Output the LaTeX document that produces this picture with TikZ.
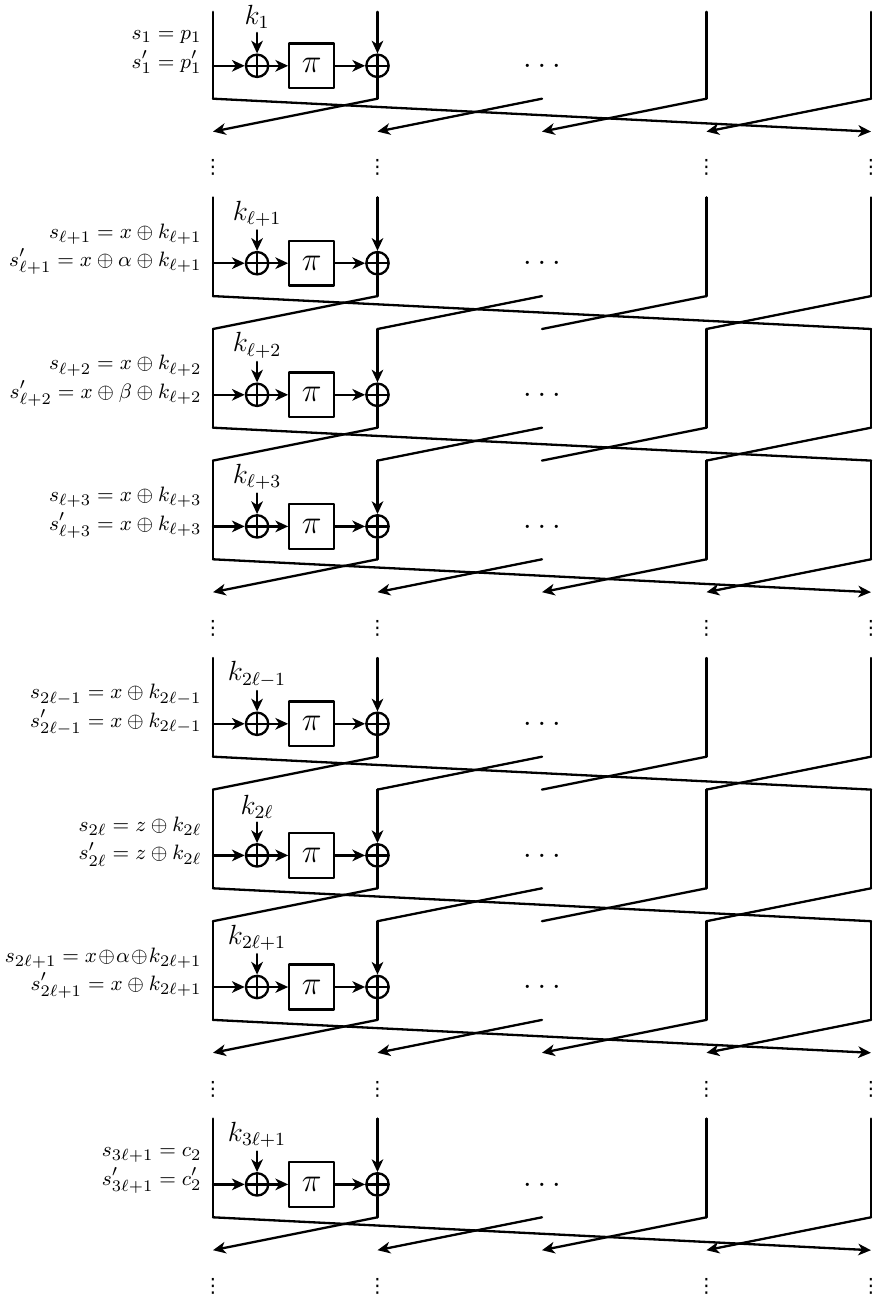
\documentclass[tikz,border=0pt]{standalone}
\usepackage{amsmath,amssymb}
\usepackage{fontspec}
\usepackage{tikz}
\usetikzlibrary{calc,arrows.meta,positioning}

\newfontfamily\dotsfont{DejaVu Sans}

\tikzset{
  wire/.style={line width=1pt},
  flow/.style={line width=1pt,-{Stealth[length=5.5pt,width=5pt,inset=1.6pt]}},
  xorop/.style={circle,draw,line width=1pt,minimum size=3.4mm,inner sep=0pt,
    path picture={\draw[line width=1pt] (path picture bounding box.north) -- (path picture bounding box.south)
      (path picture bounding box.west) -- (path picture bounding box.east);}},
  permbox/.style={draw,line width=1pt,minimum size=6.8mm,inner sep=0pt,font=\Large},
  statelab/.style={anchor=east,align=right,inner sep=0.333em,font=\fontsize{9.4}{12.3}\selectfont},
  keylab/.style={anchor=south,inner sep=1.5pt,font=\large},
  vdotlab/.style={inner sep=0pt,font=\dotsfont\fontsize{8.5}{10}\selectfont},
}

\begin{document}
\begin{tikzpicture}[scale=1.0, line cap=round, line join=round]
\useasboundingbox (-3.237,0) rectangle (10.046,-19.757);
% one round per entry: number / input level / top / key / labels / arrows+dots after
\foreach \rd/\ry/\rt/\kl/\labA/\labB/\ends in {
  1/-1/0.82/{k_1}/{s_1 = p_1}/{s'_1 = p'_1}/1,
  2/-4/1/{k_{\ell+1}}/{s_{\ell+1} = x \oplus k_{\ell+1}}/{s'_{\ell+1} = x \oplus \alpha \oplus k_{\ell+1}}/0,
  3/-6/1/{k_{\ell+2}}/{s_{\ell+2} = x \oplus k_{\ell+2}}/{s'_{\ell+2} = x \oplus \beta \oplus k_{\ell+2}}/0,
  4/-8/1/{k_{\ell+3}}/{s_{\ell+3} = x \oplus k_{\ell+3}}/{s'_{\ell+3} = x \oplus k_{\ell+3}}/1,
  5/-11/1/{k_{2\ell-1}}/{s_{2\ell-1} = x \oplus k_{2\ell-1}}/{s'_{2\ell-1} = x \oplus k_{2\ell-1}}/0,
  6/-13/1/{k_{2\ell}}/{s_{2\ell} = z \oplus k_{2\ell}}/{s'_{2\ell} = z \oplus k_{2\ell}}/0,
  7/-15/1/{k_{2\ell+1}}/{s_{2\ell+1} = x\!\oplus\!\alpha\!\oplus\! k_{2\ell+1}}/{s'_{2\ell+1} = x \oplus k_{2\ell+1}}/1,
  8/-18/1/{k_{3\ell+1}}/{s_{3\ell+1} = c_2}/{s'_{3\ell+1} = c'_2}/1} {
  \foreach \c/\cx in {0/0,1/2.5,2/5,3/7.5,4/10} {
    \coordinate (t\c-\rd) at (\cx,\ry+\rt);
    \coordinate (b\c-\rd) at (\cx,\ry-0.5);
    \coordinate (e\c-\rd) at (\cx,\ry-1);
  }
  \coordinate (in-\rd) at (0,\ry);
  \coordinate (kin-\rd) at (0.67,\ry+0.5);
  \node[xorop] (xa-\rd) at (0.67,\ry) {};
  \node[permbox] (pi-\rd) at (1.5,\ry) {$\pi$};
  \node[xorop] (xb-\rd) at (2.5,\ry) {};
  \node[keylab] (k-\rd) at (kin-\rd) {$\kl$};
  \node[statelab] (s-\rd) at (-0.05,\ry+0.21) {$\labA$\\$\labB$};
  \node[font=\Large] (dots-\rd) at (5,\ry) {$\ldots$};
  % wires
  \draw[wire] (t0-\rd) -- (b0-\rd);
  \draw[wire] (t3-\rd) -- (b3-\rd);
  \draw[wire] (t4-\rd) -- (b4-\rd);
  \draw[flow] (t1-\rd) -- (xb-\rd);
  \draw[wire] (xb-\rd) -- (b1-\rd);
  \draw[flow] (in-\rd) -- (xa-\rd);
  \draw[flow] (xa-\rd) -- (pi-\rd);
  \draw[flow] (pi-\rd) -- (xb-\rd);
  \draw[flow] (kin-\rd) -- (xa-\rd);
  % rotate the words
  \ifnum\ends=1\relax
    \tikzset{shuf/.style={flow}}
  \else
    \tikzset{shuf/.style={wire}}
  \fi
  \draw[shuf] (b0-\rd) -- (e4-\rd);
  \draw[shuf] (b1-\rd) -- (e0-\rd);
  \draw[shuf] (b2-\rd) -- (e1-\rd);
  \draw[shuf] (b3-\rd) -- (e2-\rd);
  \draw[shuf] (b4-\rd) -- (e3-\rd);
  \ifnum\ends=1\relax
    \foreach \c in {0,1,3,4} {
      \node[vdotlab] (vd\c-\rd) at ($(e\c-\rd)+(0,-0.55)$) {⋮};
    }
  \fi
}
\end{tikzpicture}
\end{document}
